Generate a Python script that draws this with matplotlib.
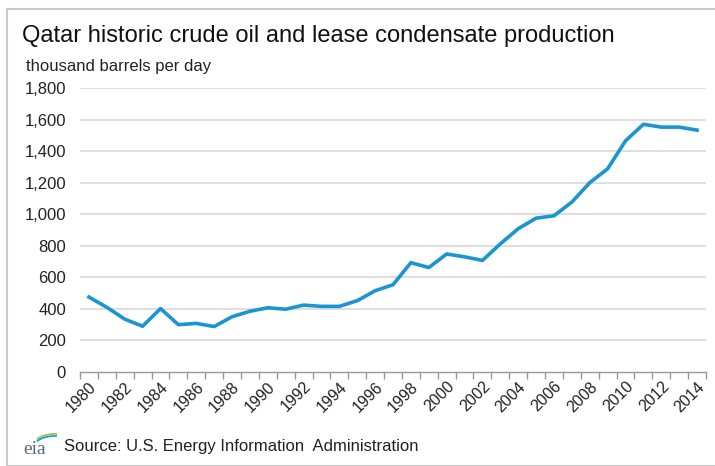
import matplotlib.pyplot as plt
import matplotlib.patches as patches
from matplotlib.ticker import FuncFormatter
import numpy as np

plt.rcParams['font.family'] = ['Liberation Sans', 'DejaVu Sans']

years = list(range(1980, 2015))
production = [
    475, 410, 335, 290, 402, 300, 308, 288, 350, 385,
    407, 398, 424, 416, 416, 452, 515, 553, 693, 662,
    748, 730, 707, 812, 908, 975, 990, 1077, 1200, 1288,
    1465, 1570, 1552, 1552, 1533,
]
yticks = [0, 200, 400, 600, 800, 1000, 1200, 1400, 1600, 1800]
xlabels = years[::2]

blue = '#1b95d2'
W, H = 715, 466

fig = plt.figure(figsize=(7.15, 4.66), dpi=100)
ax = fig.add_axes([80 / W, (H - 372) / H, (706 - 80) / W, (372 - 88) / H])

# horizontal grid, light gray
for v in yticks[1:]:
    ax.axhline(v, color='#d9d9d9', lw=1.2, zorder=1)

ax.plot(years, production, color=blue, lw=2.6, zorder=3, solid_joinstyle='round')

ax.set_xlim(1979.5, 2014.5)
ax.set_ylim(0, 1800)
ax.set_yticks(yticks)
ax.yaxis.set_major_formatter(FuncFormatter(lambda v, p: f'{int(v):,}'))
ax.tick_params(axis='y', length=0, pad=10, labelsize=12, labelcolor='#222222')

# category boundary ticks, labels every other year
ax.set_xticks([y - 0.5 for y in years] + [2014.5], minor=True)
ax.set_xticks(xlabels)
ax.set_xticklabels([str(y) for y in xlabels], rotation=45, ha='right',
                   rotation_mode='anchor', fontsize=11.5, color='#222222')
ax.tick_params(axis='x', which='major', length=0, pad=5)
ax.tick_params(axis='x', which='minor', length=5, color='#999999', width=1, direction='out')

for s in ['top', 'right', 'left']:
    ax.spines[s].set_visible(False)
ax.spines['bottom'].set_color('#999999')
ax.spines['bottom'].set_linewidth(1)

fig.text(22 / W, 1 - 36 / H, 'Qatar historic crude oil and lease condensate production',
         fontsize=17, va='center', ha='left', color='#111111')
fig.text(26 / W, 1 - 66 / H, 'thousand barrels per day', fontsize=12,
         va='center', ha='left', color='#222222')
fig.text(64 / W, 1 - 447 / H, 'Source: U.S. Energy Information  Administration',
         fontsize=12, va='center', ha='left', color='#222222')

# small eia mark
fig.text(23 / W, 1 - 449 / H, 'eia', fontsize=14, family='Liberation Serif',
         va='center', ha='left', color='#5a6a7a')
arc_ax = fig.add_axes([27 / W, 1 - 445 / H, 30 / W, 14 / H])
arc_ax.set_axis_off()
arc_ax.set_xlim(0, 1)
arc_ax.set_ylim(0, 1)
t = np.linspace(0.35, 1.0, 20)
arc_ax.plot(t, 0.2 + 0.6 * np.sqrt(1 - (1 - t) ** 2 / 0.5), color='#8cc63f', lw=1.2)
arc_ax.plot(t, 0.05 + 0.6 * np.sqrt(1 - (1 - t) ** 2 / 0.5), color='#1b95d2', lw=1.2)

# frame around the chart
fig.add_artist(patches.Rectangle((7 / W, 0), 1, 1 - 9 / H, transform=fig.transFigure,
                                 fill=False, edgecolor='#c8c8c8', lw=1.5))

fig.savefig('out.png', dpi=100)
